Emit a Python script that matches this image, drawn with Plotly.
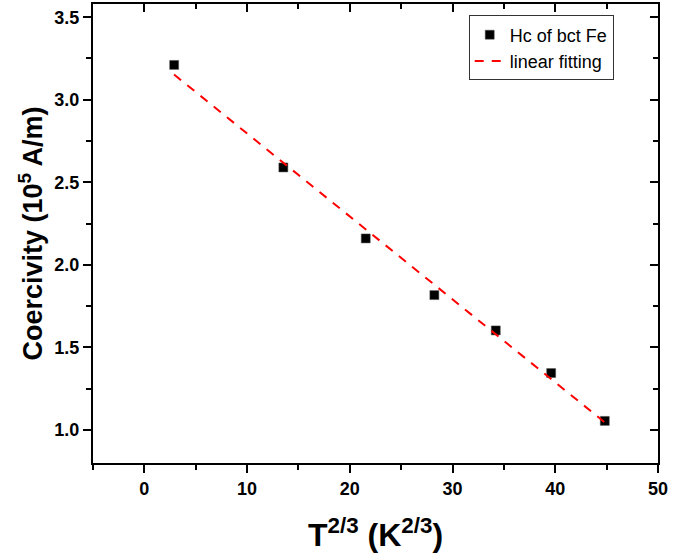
import plotly.graph_objects as go

# Data
t23 = [2.90, 13.53, 21.55, 28.23, 34.21, 39.60, 44.82]
hc = [3.211, 2.590, 2.160, 1.817, 1.603, 1.345, 1.055]

fit_x = [2.89, 45.02]
fit_y = [3.153, 1.036]

x_range = [-5, 50]
y_range = [0.8, 3.58]

x_ticks = [0, 10, 20, 30, 40, 50]
x_tick_labels = ["0", "10", "20", "30", "40", "50"]
y_ticks = [1.0, 1.5, 2.0, 2.5, 3.0, 3.5]
y_tick_labels = ["1.0", "1.5", "2.0", "2.5", "3.0", "3.5"]

FONT = "Liberation Sans, Arial, sans-serif"

fig = go.Figure()

fig.add_trace(go.Scatter(
    x=t23, y=hc, mode="markers", name="Hc of bct Fe",
    marker=dict(symbol="square", size=9, color="black",
                line=dict(width=0.5, color="#555555")),
))
fig.add_trace(go.Scatter(
    x=fit_x, y=fit_y, mode="lines", name="linear fitting",
    line=dict(color="#ff0000", width=2, dash="9px,8px"),
))
# helper trace to instantiate the top/right mirror axes
fig.add_trace(go.Scatter(
    x=[None], y=[None], xaxis="x2", yaxis="y2",
    showlegend=False, hoverinfo="skip", mode="markers",
))

axis_common = dict(
    showgrid=False, zeroline=False, showline=True, automargin=False,
    linecolor="black", linewidth=2,
    tickcolor="black", tickwidth=2, ticklen=8,
)

fig.update_layout(
    width=685, height=556,
    margin=dict(l=93, r=27, t=4, b=93),
    paper_bgcolor="white", plot_bgcolor="white",
    font=dict(family=FONT, color="black"),
    xaxis=dict(
        **axis_common, range=x_range, ticks="outside",
        tickvals=x_ticks, ticktext=["<b>%s</b>" % s for s in x_tick_labels],
        minor=dict(dtick=5, tick0=0, ticklen=5, tickwidth=2, tickcolor="black", ticks="outside"),
        tickfont=dict(size=18, family=FONT),
        title=dict(text="<b>T<sup>2/3</sup> (K<sup>2/3</sup>)</b>",
                   font=dict(size=32, family=FONT), standoff=26),
    ),
    yaxis=dict(
        **axis_common, range=y_range, ticks="outside",
        tickvals=y_ticks, ticktext=["<b>%s</b>" % s for s in y_tick_labels],
        minor=dict(dtick=0.25, tick0=0, ticklen=5, tickwidth=2, tickcolor="black", ticks="outside"),
        tickfont=dict(size=18, family=FONT),
        title=dict(text="<b>Coercivity (10<sup>5</sup> A/m)</b>",
                   font=dict(size=27, family=FONT), standoff=4),
    ),
    xaxis2=dict(
        **axis_common, range=x_range, dtick=10, tick0=0, ticks="inside",
        minor=dict(dtick=5, tick0=0, ticklen=5, tickwidth=2, tickcolor="black", ticks="inside"),
        overlaying="x", side="top", anchor="y2", showticklabels=False,
    ),
    yaxis2=dict(
        **axis_common, range=y_range, dtick=0.5, tick0=0, ticks="inside",
        minor=dict(dtick=0.25, tick0=0, ticklen=5, tickwidth=2, tickcolor="black", ticks="inside"),
        overlaying="y", side="right", anchor="x2", showticklabels=False,
    ),
    legend=dict(
        x=0.665, y=0.975, xanchor="left", yanchor="top",
        bgcolor="white", bordercolor="#333333", borderwidth=1,
        font=dict(size=18, family=FONT),
        tracegroupgap=0, itemwidth=30,
    ),
    showlegend=True,
)

fig.write_html("out.html", config={"displayModeBar": False},
               post_script="document.body.style.margin='0px';")
